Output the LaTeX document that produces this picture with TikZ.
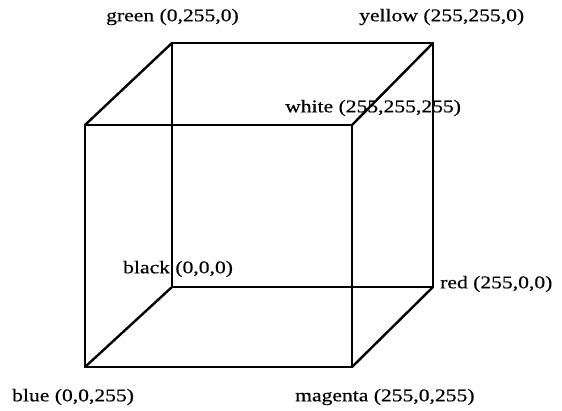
\documentclass[tikz,border=0pt]{standalone}
\usepackage{fontspec}
\setmainfont{Liberation Serif}
\newfontfamily\labfont[FakeStretch=1.2,FakeBold=0.5]{Liberation Serif}
\begin{document}
\begin{tikzpicture}[x=1pt,y=-1pt,
  edge/.style={line width=2.4pt, line cap=round, line join=round},
  lab/.style={font=\labfont\fontsize{18}{21}\selectfont, inner sep=0pt, anchor=west}]
\useasboundingbox (0,0) rectangle (562,411);
\coordinate (blue) at (85,367);
\coordinate (magenta) at (352,367);
\coordinate (white) at (352,125);
\coordinate (cyan) at (85,125);
\coordinate (black) at (172,287);
\coordinate (red) at (433,287);
\coordinate (yellow) at (433,43);
\coordinate (green) at (172,43);
\draw[edge] (blue) -- (magenta) -- (white) -- (cyan) -- cycle;
\draw[edge] (black) -- (red) -- (yellow) -- (green) -- cycle;
\draw[edge] (blue) -- (black);
\draw[edge] (magenta) -- (red);
\draw[edge] (white) -- (yellow);
\draw[edge] (cyan) -- (green);
\node[lab] (lgreen) at (106,17) {green (0,255,0)};
\node[lab] (lyellow) at (359,17) {yellow (255,255,0)};
\node[lab] (lwhite) at (285,108) {white (255,255,255)};
\node[lab] (lblack) at (123,269) {black (0,0,0)};
\node[lab] (lred) at (440,284) {red (255,0,0)};
\node[lab] (lblue) at (12,397) {blue (0,0,255)};
\node[lab] (lmagenta) at (295,397) {magenta (255,0,255)};
\end{tikzpicture}
\end{document}
